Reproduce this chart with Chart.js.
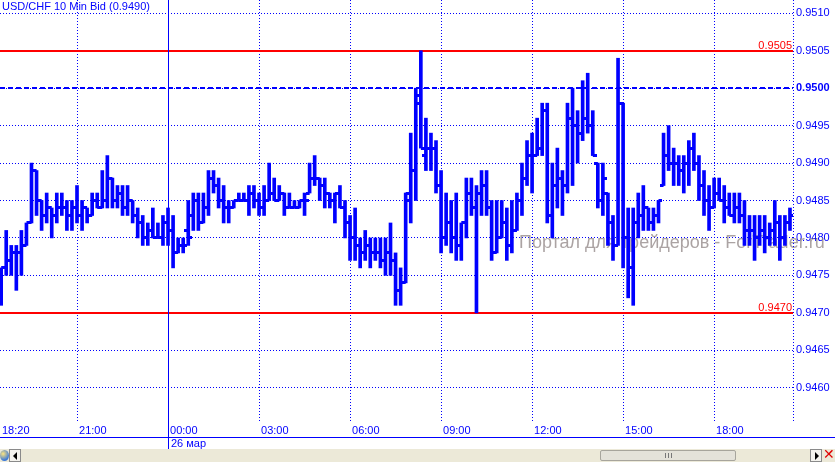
<!DOCTYPE html>
<html>
<head>
<meta charset="utf-8">
<script src="https://cdn.jsdelivr.net/npm/chart.js@4.4.1/dist/chart.umd.min.js"></script>
<style>
    html, body { margin: 0; padding: 0; background: #fff; overflow: hidden; }
    #wrap { position: relative; width: 835px; height: 462px; }
    canvas { display: block; }
    #sb { position: absolute; left: 0; top: 449px; width: 835px; height: 13px; background: #ece9d8; }
    #sb div { position: absolute; box-sizing: border-box; }
    .btn { top: 0; width: 12px; height: 13px; border: 1px solid #8a8a8a; background: #f4f3ee; }
    .tri-l { position: absolute; left: 3px; top: 2px; width: 0; height: 0;
        border-top: 4px solid transparent; border-bottom: 4px solid transparent; border-right: 4px solid #000; }
    .tri-r { position: absolute; left: 4px; top: 2px; width: 0; height: 0;
        border-top: 4px solid transparent; border-bottom: 4px solid transparent; border-left: 4px solid #000; }
</style>
</head>
<body>
<div id="wrap">
    <canvas id="chart" width="835" height="449"></canvas>
    <div id="sb">
        <div style="left:0;top:1px;width:9px;height:11px;border-radius:50%;background:radial-gradient(circle at 35% 35%,#ffe680,#3a78d8 70%);"></div>
        <div class="btn" style="left:9px;"><span class="tri-l"></span></div>
        <div style="left:600px;top:1px;width:136px;height:11px;border:1px solid #a7a59c;border-radius:2px;background:#e4e2d9;">
            <div style="left:64px;top:2px;width:7px;height:5px;border-left:1px solid #777;border-right:1px solid #777;"></div>
            <div style="left:67px;top:2px;width:1px;height:5px;background:#777;"></div>
        </div>
        <div class="btn" style="left:810px;"><span class="tri-r"></span></div>
        <div style="left:823px;top:-2px;width:12px;height:13px;color:#e00000;font:bold 14px 'DejaVu Sans';line-height:15px;">&#x2715;</div>
    </div>
</div>
<script>
    'use strict';

    // ── Data (USD/CHF, 10 min bars, first bar = 18:30) ─────────────────────────

    var HIGH = [
        0.9476, 0.9481, 0.9479, 0.9479, 0.9481, 0.9482, 0.9490, 0.9489, 0.9485, 0.9486,
        0.9484, 0.9486, 0.9486, 0.9485, 0.9485, 0.9487, 0.9485, 0.9484, 0.9486, 0.9486,
        0.9489, 0.9491, 0.9488, 0.9487, 0.9487, 0.9487, 0.9485, 0.9484, 0.9483, 0.9482,
        0.9484, 0.9482, 0.9483, 0.9484, 0.9483, 0.9480, 0.9480, 0.9485, 0.9486, 0.9486,
        0.9486, 0.9489, 0.9489, 0.9488, 0.9487, 0.9485, 0.9485, 0.9486, 0.9486, 0.9487,
        0.9487, 0.9486, 0.9487, 0.9490, 0.9488, 0.9487, 0.9486, 0.9486, 0.9485, 0.9485,
        0.9486, 0.9490, 0.9491, 0.9488, 0.9488, 0.9486, 0.9486, 0.9487, 0.9485, 0.9483,
        0.9484, 0.9480, 0.9481, 0.9480, 0.9480, 0.9480, 0.9480, 0.9482, 0.9478, 0.9476,
        0.9486, 0.9494, 0.9500, 0.9505, 0.9496, 0.9494, 0.9493, 0.9489, 0.9486, 0.9485,
        0.9486, 0.9482, 0.9488, 0.9488, 0.9487, 0.9489, 0.9489, 0.9485, 0.9485, 0.9485,
        0.9484, 0.9485, 0.9486, 0.9490, 0.9493, 0.9494, 0.9496, 0.9498, 0.9498, 0.9490,
        0.9492, 0.9489, 0.9498, 0.9500, 0.9497, 0.9501, 0.9502, 0.9497, 0.9490, 0.9490,
        0.9486, 0.9483, 0.9504, 0.9498, 0.9484, 0.9484, 0.9486, 0.9487, 0.9484, 0.9484,
        0.9485, 0.9494, 0.9495, 0.9492, 0.9491, 0.9491, 0.9493, 0.9494, 0.9491, 0.9489,
        0.9487, 0.9488, 0.9488, 0.9487, 0.9486, 0.9486, 0.9486, 0.9485, 0.9483, 0.9483,
        0.9483, 0.9483, 0.9482, 0.9485, 0.9483, 0.9483, 0.9484
    ];

    var LOW = [
        0.9471, 0.9475, 0.9475, 0.9473, 0.9475, 0.9479, 0.9482, 0.9483, 0.9481, 0.9482,
        0.9480, 0.9482, 0.9483, 0.9481, 0.9481, 0.9482, 0.9481, 0.9482, 0.9483, 0.9484,
        0.9484, 0.9484, 0.9484, 0.9484, 0.9483, 0.9483, 0.9482, 0.9480, 0.9479, 0.9479,
        0.9480, 0.9480, 0.9479, 0.9479, 0.9476, 0.9478, 0.9478, 0.9479, 0.9481, 0.9481,
        0.9482, 0.9483, 0.9486, 0.9484, 0.9482, 0.9482, 0.9484, 0.9485, 0.9485, 0.9483,
        0.9484, 0.9483, 0.9483, 0.9485, 0.9485, 0.9485, 0.9483, 0.9484, 0.9484, 0.9484,
        0.9483, 0.9486, 0.9487, 0.9485, 0.9484, 0.9484, 0.9482, 0.9484, 0.9480, 0.9477,
        0.9477, 0.9476, 0.9477, 0.9476, 0.9477, 0.9476, 0.9475, 0.9475, 0.9471, 0.9471,
        0.9474, 0.9482, 0.9485, 0.9492, 0.9489, 0.9489, 0.9486, 0.9478, 0.9479, 0.9478,
        0.9477, 0.9477, 0.9480, 0.9483, 0.9470, 0.9483, 0.9483, 0.9477, 0.9478, 0.9480,
        0.9477, 0.9478, 0.9481, 0.9483, 0.9487, 0.9486, 0.9491, 0.9491, 0.9482, 0.9480,
        0.9484, 0.9483, 0.9486, 0.9487, 0.9490, 0.9493, 0.9494, 0.9491, 0.9484, 0.9483,
        0.9479, 0.9477, 0.9479, 0.9476, 0.9472, 0.9471, 0.9480, 0.9481, 0.9481, 0.9481,
        0.9482, 0.9487, 0.9489, 0.9487, 0.9487, 0.9486, 0.9487, 0.9489, 0.9485, 0.9483,
        0.9481, 0.9484, 0.9485, 0.9482, 0.9483, 0.9482, 0.9482, 0.9479, 0.9479, 0.9477,
        0.9479, 0.9478, 0.9479, 0.9479, 0.9477, 0.9479, 0.9481
    ];

    var OPEN = [
        0.9474, 0.9476, 0.9477, 0.9478, 0.9478, 0.9479, 0.9482, 0.9489, 0.9485, 0.9483,
        0.9484, 0.9483, 0.9484, 0.9484, 0.9483, 0.9484, 0.9483, 0.9484, 0.9483, 0.9485,
        0.9484, 0.9485, 0.9488, 0.9485, 0.9486, 0.9484, 0.9485, 0.9483, 0.9482, 0.9480,
        0.9481, 0.9480, 0.9480, 0.9482, 0.9481, 0.9478, 0.9479, 0.9481, 0.9483, 0.9485,
        0.9482, 0.9484, 0.9488, 0.9487, 0.9485, 0.9484, 0.9484, 0.9485, 0.9485, 0.9485,
        0.9486, 0.9485, 0.9484, 0.9485, 0.9486, 0.9485, 0.9486, 0.9484, 0.9484, 0.9484,
        0.9485, 0.9486, 0.9488, 0.9488, 0.9487, 0.9486, 0.9485, 0.9486, 0.9484, 0.9482,
        0.9480, 0.9479, 0.9478, 0.9479, 0.9478, 0.9478, 0.9477, 0.9478, 0.9477, 0.9473,
        0.9474, 0.9485, 0.9489, 0.9499, 0.9491, 0.9492, 0.9492, 0.9487, 0.9480, 0.9482,
        0.9480, 0.9479, 0.9482, 0.9486, 0.9484, 0.9486, 0.9487, 0.9484, 0.9478, 0.9480,
        0.9482, 0.9479, 0.9481, 0.9485, 0.9488, 0.9491, 0.9491, 0.9492, 0.9497, 0.9483,
        0.9487, 0.9488, 0.9487, 0.9496, 0.9495, 0.9494, 0.9496, 0.9495, 0.9490, 0.9485,
        0.9486, 0.9482, 0.9479, 0.9498, 0.9480, 0.9476, 0.9482, 0.9483, 0.9484, 0.9482,
        0.9483, 0.9487, 0.9491, 0.9490, 0.9490, 0.9489, 0.9490, 0.9492, 0.9490, 0.9487,
        0.9485, 0.9484, 0.9486, 0.9485, 0.9484, 0.9483, 0.9484, 0.9483, 0.9481, 0.9481,
        0.9480, 0.9481, 0.9480, 0.9481, 0.9482, 0.9480, 0.9482
    ];

    var CLOSE = [
        0.9476, 0.9477, 0.9478, 0.9478, 0.9479, 0.9482, 0.9489, 0.9485, 0.9483, 0.9484,
        0.9483, 0.9484, 0.9484, 0.9483, 0.9484, 0.9483, 0.9484, 0.9483, 0.9485, 0.9484,
        0.9485, 0.9488, 0.9485, 0.9486, 0.9484, 0.9485, 0.9483, 0.9482, 0.9480, 0.9481,
        0.9480, 0.9480, 0.9482, 0.9481, 0.9478, 0.9479, 0.9479, 0.9480, 0.9485, 0.9482,
        0.9484, 0.9488, 0.9487, 0.9485, 0.9484, 0.9484, 0.9485, 0.9485, 0.9485, 0.9486,
        0.9485, 0.9484, 0.9485, 0.9486, 0.9485, 0.9486, 0.9484, 0.9484, 0.9484, 0.9485,
        0.9485, 0.9488, 0.9488, 0.9487, 0.9486, 0.9485, 0.9486, 0.9484, 0.9482, 0.9480,
        0.9479, 0.9478, 0.9479, 0.9478, 0.9478, 0.9477, 0.9478, 0.9477, 0.9473, 0.9474,
        0.9486, 0.9489, 0.9498, 0.9492, 0.9492, 0.9492, 0.9487, 0.9480, 0.9482, 0.9480,
        0.9479, 0.9482, 0.9486, 0.9484, 0.9486, 0.9487, 0.9484, 0.9478, 0.9480, 0.9482,
        0.9479, 0.9481, 0.9485, 0.9488, 0.9491, 0.9491, 0.9492, 0.9497, 0.9483, 0.9487,
        0.9488, 0.9487, 0.9496, 0.9495, 0.9494, 0.9496, 0.9495, 0.9491, 0.9485, 0.9488,
        0.9482, 0.9479, 0.9498, 0.9480, 0.9476, 0.9482, 0.9483, 0.9484, 0.9482, 0.9483,
        0.9485, 0.9491, 0.9490, 0.9490, 0.9489, 0.9490, 0.9492, 0.9490, 0.9487, 0.9485,
        0.9484, 0.9486, 0.9485, 0.9484, 0.9483, 0.9484, 0.9483, 0.9481, 0.9481, 0.9480,
        0.9481, 0.9480, 0.9481, 0.9482, 0.9480, 0.9482, 0.9483
    ];

    // Time axis: bar index (0 = 18:20) and label.
    var TIME_TICKS  = [0, 16, 34, 52, 70, 88, 106, 124, 142];
    var TIME_LABELS = ['18:20', '21:00', '00:00', '03:00', '06:00', '09:00', '12:00', '15:00', '18:00'];
    var DAY_TICK    = 34;
    var DAY_LABEL   = '26 мар';

    var PRICE_TICKS = [0.9460, 0.9465, 0.9470, 0.9475, 0.9480, 0.9485,
                       0.9490, 0.9495, 0.9500, 0.9505, 0.9510];

    var RED_LEVELS  = [0.9505, 0.9470];
    var BLUE_LEVEL  = 0.9500;

    var TITLE     = 'USD/CHF 10 Min Bid (0.9490)';
    var WATERMARK = 'Портал для трейдеров - ForTrader.ru';

    var BLUE = '#0000ff';
    var RED  = '#ff0000';
    var FONT = '"Liberation Sans", Arial, sans-serif';

    // ── Open / close tick images ──────────────────────────────────────────────

    function tickImage(left) {
        var c = document.createElement('canvas');
        c.width = 8;
        c.height = 3;
        var g = c.getContext('2d');
        g.fillStyle = BLUE;
        g.fillRect(left ? 0 : 4, 0, 4, 3);
        return c;
    }

    var openImg  = tickImage(true);
    var closeImg = tickImage(false);

    // Scales should not reserve room for half-labels at the plot edges.
    function noPadding(scale) {
        scale.paddingLeft = 0;
        scale.paddingRight = 0;
        scale.paddingTop = 0;
        scale.paddingBottom = 0;
    }

    // ── Extra drawing: levels, watermark, title, day separator ────────────────

    var overlay = {
        id: 'overlay',
        beforeDatasetsDraw: function(chart) {
            var ctx = chart.ctx;
            var area = chart.chartArea;
            var y = chart.scales.y;
            var x = chart.scales.x;

            ctx.save();

            // Watermark under the bars.
            ctx.font = '18px ' + FONT;
            ctx.fillStyle = 'rgba(150, 140, 140, 0.8)';
            ctx.textAlign = 'left';
            ctx.textBaseline = 'alphabetic';
            ctx.fillText(WATERMARK, 519, 248);

            // Right edge of the plot.
            ctx.strokeStyle = BLUE;
            ctx.lineWidth = 1;
            ctx.setLineDash([1, 2]);
            ctx.beginPath();
            ctx.moveTo(Math.round(area.right) + 0.5, area.top);
            ctx.lineTo(Math.round(area.right) + 0.5, area.bottom);
            ctx.stroke();

            // Dashed blue level.
            var by = Math.round(y.getPixelForValue(BLUE_LEVEL));
            ctx.setLineDash([5, 3]);
            ctx.lineWidth = 2;
            ctx.beginPath();
            ctx.moveTo(area.left, by);
            ctx.lineTo(area.right, by);
            ctx.stroke();
            ctx.setLineDash([]);

            // Red levels with labels.
            ctx.strokeStyle = RED;
            ctx.fillStyle = RED;
            ctx.font = '11px ' + FONT;
            ctx.textAlign = 'right';
            RED_LEVELS.forEach(function(v) {
                var ry = Math.round(y.getPixelForValue(v));
                ctx.beginPath();
                ctx.moveTo(area.left, ry);
                ctx.lineTo(area.right, ry);
                ctx.stroke();
                ctx.fillText(v.toFixed(4), area.right - 1, ry - 2);
            });

            // Day separator.
            var dx = Math.round(x.getPixelForValue(DAY_TICK));
            ctx.fillStyle = BLUE;
            ctx.fillRect(dx, 0, 1, chart.height);

            ctx.restore();
        },
        afterDraw: function(chart) {
            var ctx = chart.ctx;
            var x = chart.scales.x;
            ctx.save();
            ctx.fillStyle = BLUE;
            ctx.font = '11px ' + FONT;
            ctx.textAlign = 'left';
            ctx.textBaseline = 'top';
            ctx.fillText(TITLE, 2, 1);

            // Time axis baseline and date row.
            ctx.fillRect(0, 437, chart.width, 1);
            ctx.textBaseline = 'middle';
            ctx.fillText(DAY_LABEL, Math.round(x.getPixelForValue(DAY_TICK)) + 3, 444);
            ctx.restore();
        }
    };

    // ── Chart ─────────────────────────────────────────────────────────────────

    var barIndex = HIGH.map(function(_, i) { return i + 1; });

    new Chart(document.getElementById('chart'), {
        type: 'bar',
        data: {
            datasets: [{
                type: 'bar',
                data: barIndex.map(function(b, i) { return {x: b, y: [LOW[i], HIGH[i]]}; }),
                backgroundColor: BLUE,
                borderWidth: 0,
                barThickness: 3
            }, {
                type: 'line',
                showLine: false,
                data: barIndex.map(function(b, i) { return {x: b, y: OPEN[i]}; }),
                pointStyle: openImg,
                pointRadius: 3
            }, {
                type: 'line',
                showLine: false,
                data: barIndex.map(function(b, i) { return {x: b, y: CLOSE[i]}; }),
                pointStyle: closeImg,
                pointRadius: 3
            }]
        },
        options: {
            responsive: false,
            animation: false,
            events: [],
            devicePixelRatio: 1,
            layout: { padding: 0, autoPadding: false },
            plugins: {
                legend: { display: false },
                tooltip: { enabled: false },
                title: { display: false }
            },
            scales: {
                x: {
                    type: 'linear',
                    min: 0.77,
                    max: 157.6,
                    offset: false,
                    afterBuildTicks: function(scale) {
                        scale.ticks = TIME_TICKS.map(function(v) {
                            return {value: Math.max(v, scale.min)};
                        });
                    },
                    afterFit: function(scale) {
                        scale.height = 28;
                        noPadding(scale);
                    },
                    ticks: {
                        autoSkip: false,
                        maxRotation: 0,
                        align: 'start',
                        labelOffset: 2,
                        padding: 3,
                        color: BLUE,
                        font: { family: FONT, size: 11 },
                        callback: function(v, i) { return TIME_LABELS[i]; }
                    },
                    grid: {
                        offset: false,
                        drawTicks: false,
                        lineWidth: 1,
                        color: function(c) { return c.index === 0 ? 'rgba(0,0,0,0)' : BLUE; }
                    },
                    border: { display: false, dash: [1, 2] }
                },
                y: {
                    type: 'linear',
                    position: 'right',
                    min: 0.945555,
                    max: 0.951178,
                    afterBuildTicks: function(scale) {
                        scale.ticks = PRICE_TICKS.map(function(v) { return {value: v}; });
                    },
                    afterFit: function(scale) {
                        scale.width = 42;
                        noPadding(scale);
                    },
                    ticks: {
                        padding: 3,
                        color: BLUE,
                        font: function(c) {
                            var bold = c.tick && Math.abs(c.tick.value - BLUE_LEVEL) < 1e-7;
                            return { family: FONT, size: 11, weight: bold ? 'bold' : 'normal' };
                        },
                        callback: function(v) { return v.toFixed(4); }
                    },
                    grid: { drawTicks: false, lineWidth: 1, color: BLUE },
                    border: { display: false, dash: [1, 2] }
                }
            }
        },
        plugins: [overlay]
    });
</script>
</body>
</html>
